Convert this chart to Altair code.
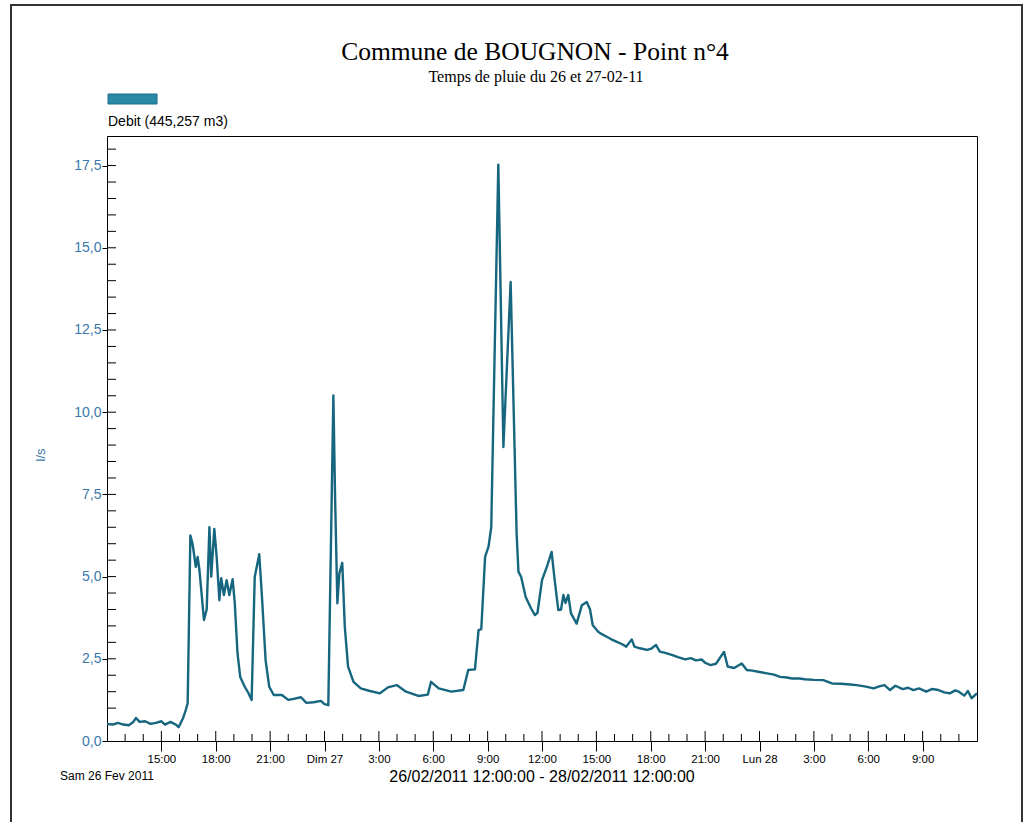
import altair as alt
import pandas as pd

# ---- data ----
hours = [
    0.0, 0.3, 0.6, 0.9, 1.2, 1.45, 1.6, 1.8, 2.1, 2.4, 2.7, 3.0, 3.2, 3.5, 3.8, 3.95,
    4.2, 4.35, 4.45, 4.6, 4.72, 4.9, 5.0, 5.1, 5.35, 5.5, 5.65, 5.75, 5.92, 6.05,
    6.2, 6.3, 6.45, 6.6, 6.75, 6.93, 7.05, 7.2, 7.35, 7.6, 7.8, 7.98, 8.15, 8.4,
    8.55, 8.75, 8.95, 9.2, 9.65, 10.0, 10.3, 10.7, 11.0, 11.4, 11.8, 12.0, 12.21,
    12.49, 12.58, 12.71, 12.82, 12.98, 13.12, 13.3, 13.6, 14.0, 14.5, 15.06, 15.5,
    15.98, 16.5, 17.18, 17.7, 17.88, 18.3, 19.0, 19.66, 19.93, 20.3, 20.5, 20.65,
    20.86, 21.05, 21.2, 21.59, 21.87, 22.27, 22.6, 22.7, 22.85, 23.1, 23.4, 23.61,
    23.75, 24.0, 24.3, 24.53, 24.7, 24.9, 25.05, 25.18, 25.3, 25.45, 25.6, 25.91,
    26.2, 26.47, 26.65, 26.8, 27.1, 27.3, 27.57, 27.8, 28.1, 28.4, 28.65, 28.95,
    29.1, 29.4, 29.8, 30.0, 30.29, 30.5, 30.8, 31.2, 31.5, 31.9, 32.2, 32.5, 32.8,
    33.0, 33.3, 33.6, 34.04, 34.25, 34.6, 35.02, 35.3, 35.6, 36.0, 36.49, 36.8,
    37.13, 37.5, 37.8, 38.2, 38.5, 39.0, 39.52, 40.0, 40.5, 41.0, 41.36, 41.8,
    42.3, 42.6, 42.9, 43.2, 43.5, 43.9, 44.2, 44.49, 44.8, 45.2, 45.5, 45.8, 46.2,
    46.5, 46.8, 47.0, 47.3, 47.5, 47.7, 48.0,
]
flow = [
    0.52, 0.50, 0.55, 0.50, 0.48, 0.58, 0.70, 0.58, 0.60, 0.52, 0.55, 0.60, 0.50, 0.58, 0.50, 0.42,
    0.70, 0.95, 1.15, 6.25, 6.00, 5.30, 5.60, 5.20, 3.68, 4.00, 6.50, 5.00, 6.45, 5.60,
    4.28, 4.95, 4.44, 4.89, 4.44, 4.92, 4.19, 2.67, 1.95, 1.65, 1.46, 1.25, 4.99, 5.68,
    4.38, 2.46, 1.65, 1.40, 1.40, 1.25, 1.28, 1.33, 1.16, 1.18, 1.22, 1.12, 1.09,
    10.51, 7.53, 4.19, 5.10, 5.42, 3.47, 2.26, 1.80, 1.60, 1.52, 1.45, 1.63,
    1.70, 1.50, 1.37, 1.41, 1.80, 1.60, 1.50, 1.55, 2.16, 2.18, 3.37, 3.40,
    5.60, 5.91, 6.50, 17.53, 8.94, 13.96, 6.30, 5.15, 4.99, 4.38, 4.03, 3.83,
    3.90, 4.89, 5.35, 5.75, 4.89, 3.98, 4.00, 4.44, 4.20, 4.44, 3.88, 3.57,
    4.13, 4.23, 4.00, 3.52, 3.32, 3.25, 3.17, 3.10, 3.02, 2.95, 2.87, 3.09,
    2.87, 2.82, 2.77, 2.80, 2.92, 2.72, 2.68, 2.61, 2.55, 2.48, 2.52, 2.45, 2.48,
    2.38, 2.31, 2.35, 2.71, 2.26, 2.22, 2.36, 2.16, 2.14, 2.10, 2.05, 2.02,
    1.95, 1.93, 1.90, 1.90, 1.88, 1.86, 1.85, 1.75, 1.74, 1.72, 1.70, 1.66,
    1.60, 1.66, 1.70, 1.55, 1.68, 1.58, 1.62, 1.55, 1.60, 1.50, 1.58, 1.56, 1.48,
    1.45, 1.54, 1.50, 1.38, 1.52, 1.30, 1.45,
]

y_major = [0.0, 2.5, 5.0, 7.5, 10.0, 12.5, 15.0, 17.5]
y_minor = [0.5 * i for i in range(1, 37)]
x_major = list(range(3, 48, 3))
x_minor = [h for h in range(1, 48) if h % 3 != 0]

title_text = "Commune de BOUGNON - Point n°4"
subtitle_text = "Temps de pluie du 26 et 27-02-11"
legend_text = "Debit (445,257 m3)"
y_title = "l/s"
date_left = "Sam 26 Fev 2011"
range_text = "26/02/2011 12:00:00 - 28/02/2011 12:00:00"

W, H = 870, 605
LINE = "#17667f"
BLUE = "#3a78aa"

df = pd.DataFrame({"h": hours, "v": flow})

xscale = alt.Scale(domain=[0, 48], nice=False, zero=False)
yscale = alt.Scale(domain=[0, 18.4], nice=False)

label_expr = ("datum.value == 12 ? 'Dim 27' : datum.value == 36 ? 'Lun 28' : "
              "((datum.value + 12) % 24) + ':00'")

line = alt.Chart(df).mark_line(color=LINE, strokeWidth=2.4, strokeJoin="round").encode(
    x=alt.X("h:Q", scale=xscale, axis=alt.Axis(
        values=x_major, labelExpr=label_expr, title=None, grid=False,
        tickSize=10, tickColor="black", domainColor="black", labelColor="black",
        labelFont="Liberation Sans", labelFontSize=11.5, labelPadding=2,
        labelFlush=False)),
    y=alt.Y("v:Q", scale=yscale, axis=alt.Axis(
        values=y_major, labelExpr="replace(format(datum.value, '.1f'), '.', ',')",
        title=None, grid=False, tickSize=5, tickColor="black", domainColor="black",
        labelColor=BLUE, labelFont="Liberation Sans", labelFontSize=14,
        labelPadding=1)),
)

# inward ticks
xmin_df = pd.DataFrame({"h": x_minor})
xmaj_df = pd.DataFrame({"h": x_major})
ymin_df = pd.DataFrame({"v": y_minor})

xminor_ticks = alt.Chart(xmin_df).mark_rule(color="black", strokeWidth=1).encode(
    x=alt.X("h:Q", scale=xscale), y=alt.value(H), y2=alt.value(H - 7))
xmajor_ticks = alt.Chart(xmaj_df).mark_rule(color="black", strokeWidth=1).encode(
    x=alt.X("h:Q", scale=xscale), y=alt.value(H), y2=alt.value(H - 10))
yminor_ticks = alt.Chart(ymin_df).mark_rule(color="black", strokeWidth=1).encode(
    y=alt.Y("v:Q", scale=yscale), x=alt.value(0), x2=alt.value(9))

one = pd.DataFrame({"a": [0]})


def text(t, x, y, size, font, color="black", align="center", angle=0):
    return alt.Chart(pd.DataFrame({"t": [t]})).mark_text(
        fontSize=size, font=font, color=color, align=align, baseline="alphabetic",
        angle=angle).encode(text="t:N", x=alt.value(x), y=alt.value(y))


title = text(title_text, 428, -76, 25.5, "Liberation Serif")
subtitle = text(subtitle_text, 429, -54, 16, "Liberation Serif")
legend_lbl = text(legend_text, 1, -10, 14, "Liberation Sans", align="left")
ytitle = text(y_title, -62, 319, 13, "Liberation Sans", color=BLUE, angle=270)
dleft = text(date_left, -47, 644, 12, "Liberation Sans", align="left")
rtext = text(range_text, 435, 646, 16, "Liberation Sans")

swatch = alt.Chart(one).mark_rect(color="#2a89a6", stroke="#1d6f88", strokeWidth=1).encode(
    x=alt.value(1), x2=alt.value(50), y=alt.value(-42), y2=alt.value(-32))

frame = alt.Chart(one).mark_rect(fillOpacity=0, stroke="#333333", strokeWidth=2).encode(
    x=alt.value(-96), x2=alt.value(915), y=alt.value(-131), y2=alt.value(700))

chart = alt.layer(
    frame, xminor_ticks, xmajor_ticks, yminor_ticks, line,
    title, subtitle, swatch, legend_lbl, ytitle, dleft, rtext,
).properties(
    width=W, height=H,
    background="white",
    padding={"left": 107, "top": 136, "right": 56, "bottom": 81},
    autosize=alt.AutoSizeParams(type="none"),
).configure_view(stroke="black", strokeWidth=1)

chart.save("out.html", embed_options={"renderer": "svg", "actions": False})
